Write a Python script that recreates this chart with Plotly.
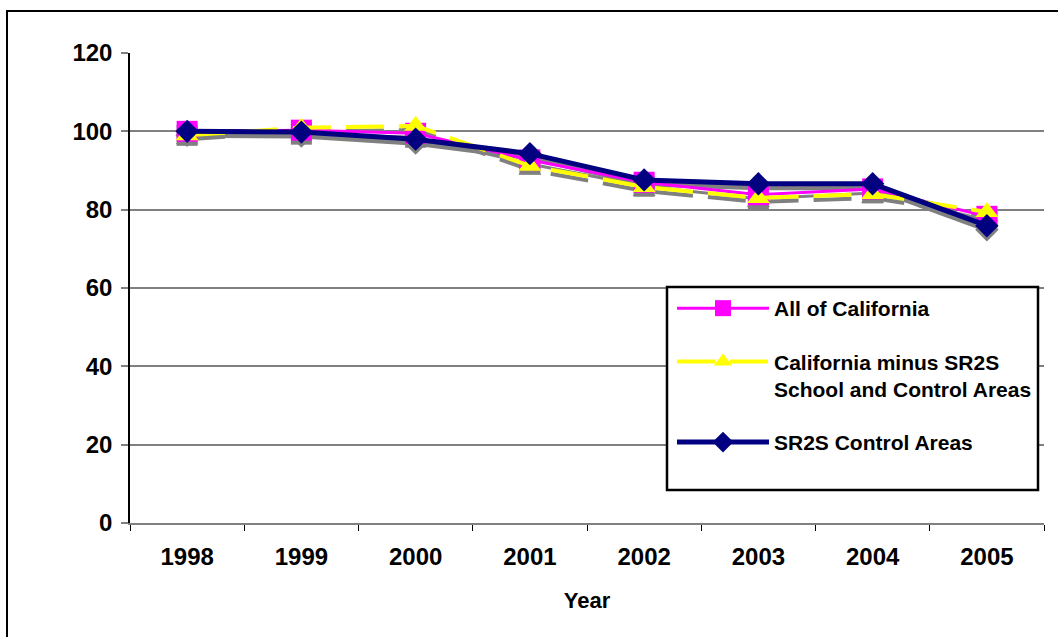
import plotly.graph_objects as go

# Index values (1998 = 100)
years = ["1998", "1999", "2000", "2001", "2002", "2003", "2004", "2005"]
all_california = [100.0, 100.3, 99.5, 92.7, 87.0, 83.8, 85.3, 78.3]
ca_minus_sr2s = [99.0, 100.9, 101.4, 91.2, 85.8, 83.0, 84.0, 79.4]
sr2s_control = [100.0, 99.8, 98.0, 94.3, 87.6, 86.6, 86.6, 75.9]

y_ticks = [0, 20, 40, 60, 80, 100, 120]

W, H = 1058, 637
M_L, M_R, M_T, M_B = 130, 14, 53, 114
plot_w = W - M_L - M_R
plot_h = H - M_T - M_B
y_max = 120

# drop shadow offset (pixels -> data units)
shadow_dy = 4 * y_max / plot_h

series = [
    dict(name="All of California", y=all_california, color="#FF00FF",
         width=3, dash="solid", symbol="square", size=21),
    dict(name="California minus SR2S<br>School and Control Areas", y=ca_minus_sr2s,
         color="#FFFF00", width=4, dash="38px,15px", symbol="triangle-up", size=20),
    dict(name="SR2S Control Areas", y=sr2s_control, color="#000080",
         width=5, dash="solid", symbol="diamond", size=18),
]

fig = go.Figure()

# gray shadows beneath every series
for s in series:
    fig.add_trace(go.Scatter(
        x=years, y=[v - shadow_dy for v in s["y"]], mode="lines+markers",
        line=dict(color="#808080", width=s["width"], dash=s["dash"]),
        marker=dict(symbol=s["symbol"], size=s["size"], color="#808080"),
        showlegend=False, hoverinfo="skip"))

for i, s in enumerate(series):
    fig.add_trace(go.Scatter(
        x=years, y=s["y"], name=s["name"], mode="lines+markers",
        line=dict(color=s["color"], width=s["width"], dash=s["dash"]),
        marker=dict(symbol=s["symbol"], size=s["size"], color=s["color"]),
        legendgroup=f"g{i}"))

def px_x(p):
    return (p - M_L) / plot_w

def px_y(p):
    return (H - M_B - p) / plot_h

shapes = [
    # outer chart frame
    dict(type="rect", xref="paper", yref="paper",
         x0=px_x(7), x1=px_x(1100), y0=px_y(700), y1=px_y(11),
         line=dict(color="black", width=2), fillcolor="rgba(0,0,0,0)", layer="below"),
    # legend frame
    dict(type="rect", xref="paper", yref="paper",
         x0=px_x(667), x1=px_x(1038), y0=px_y(490), y1=px_y(287),
         line=dict(color="black", width=2.5), fillcolor="white", layer="above"),
]

font_family = "Liberation Sans, Arial, sans-serif"

fig.update_layout(
    width=W, height=H,
    margin=dict(l=M_L, r=M_R, t=M_T, b=M_B),
    paper_bgcolor="white", plot_bgcolor="white",
    font=dict(family=font_family, color="black"),
    shapes=shapes,
    showlegend=True,
    legend=dict(
        x=px_x(672), y=px_y(288), xanchor="left", yanchor="top",
        bgcolor="rgba(0,0,0,0)", borderwidth=0, valign="top",
        font=dict(family=font_family, size=21, color="black", weight="bold"),
        traceorder="grouped", tracegroupgap=23, itemwidth=92,
    ),
    xaxis=dict(
        type="category", categoryorder="array", categoryarray=years,
        range=[-0.5, 7.5], showgrid=False, zeroline=False,
        showline=True, linecolor="#808080", linewidth=2,
        ticks="outside", tickson="boundaries", ticklen=6, tickcolor="black", tickwidth=1,
        ticklabelstandoff=11,
        tickfont=dict(family=font_family, size=24, color="black", weight="bold"),
        title=dict(text="Year", standoff=24,
                   font=dict(family=font_family, size=22, color="black", weight="bold")),
    ),
    yaxis=dict(
        range=[0, y_max], tickvals=y_ticks, showgrid=True,
        gridcolor="#808080", gridwidth=2, zeroline=False,
        showline=True, linecolor="black", linewidth=1.5,
        ticks="outside", ticklen=7, tickcolor="#808080", tickwidth=2,
        ticklabelstandoff=4,
        tickfont=dict(family=font_family, size=24, color="black", weight="bold"),
    ),
)

fig.write_html("out.html")
